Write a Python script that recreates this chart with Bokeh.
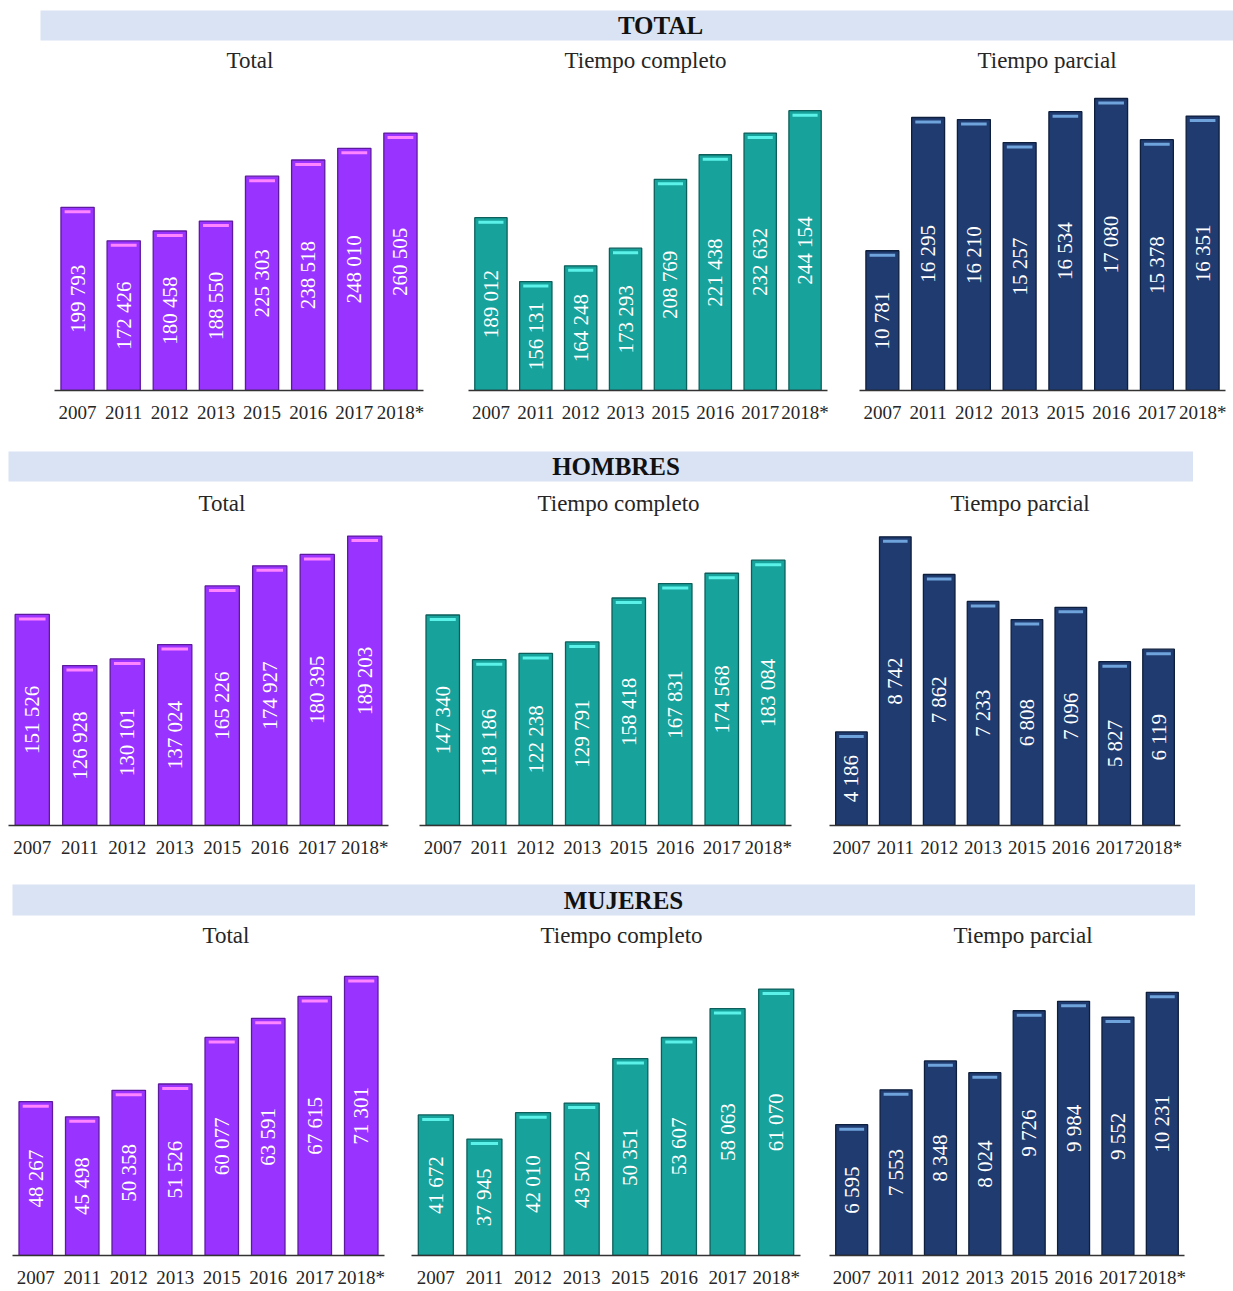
import math
from bokeh.plotting import figure
from bokeh.layouts import column, row
from bokeh.models import Range1d, FactorRange, Label, ColumnDataSource, Spacer
from bokeh.core.properties import value
from bokeh.embed import file_html
from bokeh.resources import INLINE

# ---------------- data ----------------
years = ["2007", "2011", "2012", "2013", "2015", "2016", "2017", "2018*"]

total_total = [199793, 172426, 180458, 188550, 225303, 238518, 248010, 260505]
total_completo = [189012, 156131, 164248, 173293, 208769, 221438, 232632, 244154]
total_parcial = [10781, 16295, 16210, 15257, 16534, 17080, 15378, 16351]

hombres_total = [151526, 126928, 130101, 137024, 165226, 174927, 180395, 189203]
hombres_completo = [147340, 118186, 122238, 129791, 158418, 167831, 174568, 183084]
hombres_parcial = [4186, 8742, 7862, 7233, 6808, 7096, 5827, 6119]

mujeres_total = [48267, 45498, 50358, 51526, 60077, 63591, 67615, 71301]
mujeres_completo = [41672, 37945, 42010, 43502, 50351, 53607, 58063, 61070]
mujeres_parcial = [6595, 7553, 8348, 8024, 9726, 9984, 9552, 10231]

section_titles = ["TOTAL", "HOMBRES", "MUJERES"]
panel_titles = ["Total", "Tiempo completo", "Tiempo parcial"]

series = [
    [total_total, total_completo, total_parcial],
    [hombres_total, hombres_completo, hombres_parcial],
    [mujeres_total, mujeres_completo, mujeres_parcial],
]

# value-axis limits of every panel (axes start above zero, as in the original)
y_starts = [[50000, 100000, 5000], [50000, 10000, 2000], [20000, 20000, 3000]]
y_ends = [[308425, 262785, 18073], [198148, 210939, 9193], [76248, 67170, 11409]]

# ---------------- style ----------------
SERIF = "Liberation Serif"
BAND = "#DAE3F3"
fills = ["#9933FF", "#17A29B", "#1F3B6F"]
edges = ["#5E1A9E", "#0C5F5B", "#0E1E3D"]
highlights = ["#FF86FF", "#5BF2EA", "#6FA3DC"]
TXT = "#262626"

# header geometry: (space above, band height, space below, left indent, band width, label x fraction)
header_geo = [
    (10, 30, 2, 40, 1193, 0.5197),
    (21, 30, 2, 8, 1185, 0.5127),
    (21, 31, 2, 12, 1183, 0.5165),
]
# panel geometry per row: min_border_top, then per panel (frame_w, frame_h, left, right, bottom)
panel_geo = [
    (32, [(369, 316, 54, 22, 40), (359, 318, 23, 16, 38), (366, 316, 16, 8, 40)]),
    (34, [(380, 308, 8, 15, 38), (372, 308, 16, 19, 38), (351, 308, 19, 53, 38)]),
    (32, [(372, 307, 12, 14, 34), (389, 307, 13, 14, 34), (355, 307, 15, 41, 34)]),
]
# left-aligned subtitle offsets (px from frame left)
title_offsets = [[172, 96, 118], [190, 118, 121], [190, 129, 124]]


def make_header(text, geo):
    mt, fh, mb, indent, bw, fx = geo
    h = figure(width=bw, height=mt + fh + mb,
               x_range=Range1d(0, 1), y_range=Range1d(0, 1),
               min_border_top=mt, min_border_bottom=mb,
               min_border_left=0, min_border_right=0,
               x_axis_location=None, y_axis_location=None,
               toolbar_location=None, output_backend="svg")
    h.background_fill_color = BAND
    h.border_fill_color = "white"
    h.outline_line_color = None
    h.grid.grid_line_color = None
    h.add_layout(Label(x=fx, y=0.5, text=text, text_align="center",
                       text_baseline="middle", text_font=SERIF,
                       text_font_size="25px", text_font_style="bold",
                       text_color="#111111"))
    return row(Spacer(width=indent, height=mt + fh + mb), h, spacing=0)


def make_panel(title, vals, y0, y1, k, mt, geo, toff):
    fw, fh, ml, mr, mb = geo
    p = figure(x_range=FactorRange(factors=years, range_padding=0),
               y_range=Range1d(y0, y1),
               width=ml + fw + mr, height=mt + fh + mb,
               min_border_left=ml, min_border_right=mr,
               min_border_top=mt, min_border_bottom=mb,
               y_axis_location=None, toolbar_location=None,
               output_backend="svg", title=title)
    p.outline_line_color = None
    p.grid.grid_line_color = None
    p.background_fill_color = "white"
    p.border_fill_color = "white"

    off = 4.5 * (y1 - y0) / fh
    src = ColumnDataSource(dict(
        x=years,
        top=vals,
        mid=[(y0 + v) / 2 for v in vals],
        hl=[v - off for v in vals],
        label=[f"{v:,}".replace(",", " ") for v in vals],
    ))
    p.vbar(x="x", top="top", bottom=y0, width=0.72, source=src,
           fill_color=fills[k], line_color=edges[k], line_width=1.3)
    p.rect(x="x", y="hl", width=0.56, height=3, height_units="screen",
           source=src, fill_color=highlights[k], line_color=None)
    p.text(x="x", y="mid", text="label", source=src, angle=math.pi / 2,
           text_align="center", text_baseline="middle", text_color="white",
           text_font=value(SERIF), text_font_size="21px")

    ax = p.xaxis[0]
    ax.axis_line_color = "#333333"
    ax.axis_line_width = 1.5
    ax.major_tick_line_color = None
    ax.minor_tick_line_color = None
    ax.major_tick_out = 0
    ax.major_tick_in = 0
    ax.minor_tick_out = 0
    ax.minor_tick_in = 0
    ax.major_label_text_font = SERIF
    ax.major_label_text_font_size = "19px"
    ax.major_label_text_color = TXT
    ax.major_label_standoff = 11

    p.title.align = "left"
    p.title.offset = toff
    p.title.text_font = SERIF
    p.title.text_font_size = "23px"
    p.title.text_font_style = "normal"
    p.title.text_color = TXT
    p.title.standoff = 4
    return p


items = []
for r in range(3):
    items.append(make_header(section_titles[r], header_geo[r]))
    mt, geos = panel_geo[r]
    figs = []
    for c in range(3):
        figs.append(make_panel(panel_titles[c], series[r][c], y_starts[r][c],
                               y_ends[r][c], c, mt, geos[c], title_offsets[r][c]))
    items.append(row(*figs, spacing=0))

layout = column(*items, spacing=0)

with open("out.html", "w") as f:
    f.write(file_html(layout, INLINE))
